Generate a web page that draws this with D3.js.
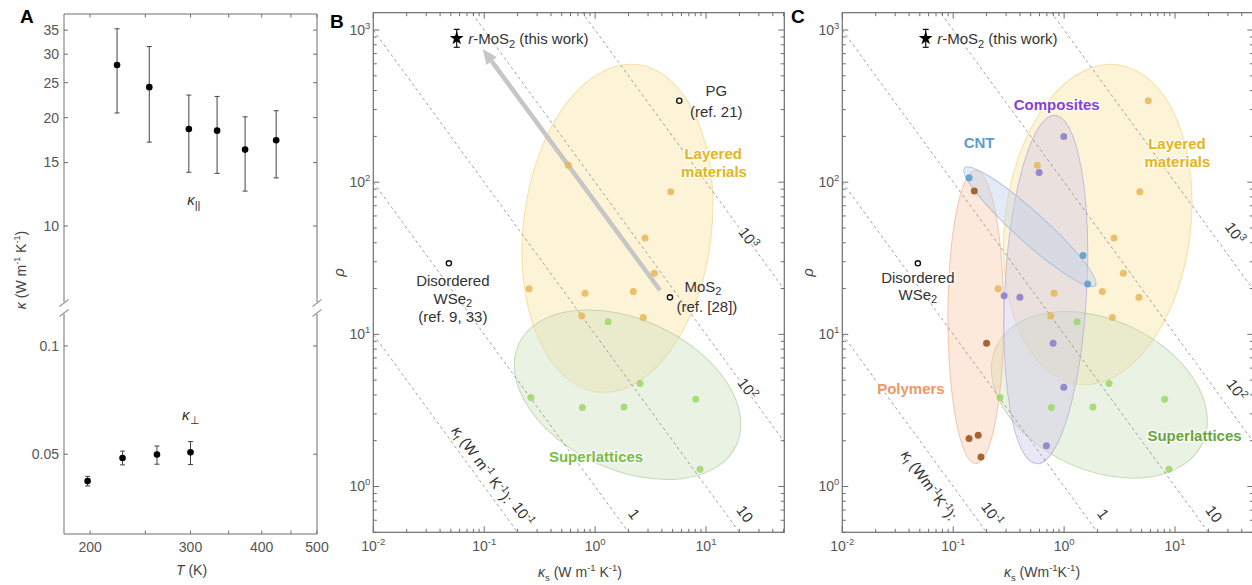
<!DOCTYPE html>
<html>
<head>
<meta charset="utf-8">
<script src="https://cdn.jsdelivr.net/npm/d3@7"></script>
<style>
  body { margin: 0; background: #fff; }
  svg { display: block; font-family: Arial, "Liberation Sans", Helvetica, sans-serif; }
</style>
</head>
<body>
<svg id="fig" width="1252" height="585"></svg>
<script>
// ---------- Panel A: conductivity versus temperature ----------
const tempPar = [223, 254, 298, 334, 374, 424];
const kappaPar = [28.0, 24.3, 18.6, 18.4, 16.3, 17.3];
const kappaParLow = [20.6, 17.1, 14.1, 14.0, 12.5, 13.6];
const kappaParHigh = [35.3, 31.5, 23.1, 22.9, 20.1, 20.9];
const tempPerp = [198, 228, 262, 300];
const kappaPerp = [0.0421, 0.0488, 0.0499, 0.0506];
const kappaPerpLow = [0.0408, 0.0467, 0.0469, 0.0468];
const kappaPerpHigh = [0.0434, 0.0510, 0.0527, 0.0542];
const tempTicks = [200, 300, 400, 500];
const tempMinorTicks = [250, 350, 450];
const kappaParTicks = [10, 15, 20, 25, 30, 35];
const kappaPerpTicks = [0.05, 0.1];

// ---------- Panels B and C: anisotropy ratio rho versus cross-plane kappa ----------
const layeredKs  = [0.573, 4.81, 2.82, 3.42, 0.254, 0.811, 2.21, 0.757, 2.72];
const layeredRho = [129, 86.5, 43.0, 25.2, 19.9, 18.6, 19.1, 13.2, 12.9];
const superKs    = [1.31, 2.54, 0.264, 0.768, 1.82, 8.07, 8.83];
const superRho   = [12.1, 4.76, 3.85, 3.30, 3.33, 3.74, 1.30];
const cntKs      = [0.139, 1.48, 1.63];
const cntRho     = [107, 33.0, 21.4];
const compKs     = [0.993, 0.596, 0.288, 0.399, 0.796, 0.993, 0.693];
const compRho    = [200, 116, 17.9, 17.5, 8.73, 4.49, 1.85];
const polyKs     = [0.155, 0.200, 0.139, 0.168, 0.178];
const polyRho    = [87.4, 8.73, 2.07, 2.17, 1.56];
const rMoS2      = [0.0565, 882];      // kappa_s, rho
const rMoS2Err   = [770, 1010];        // rho range
const pgPoint    = [5.74, 343];
const mos2Point  = [4.73, 17.5];
const wse2Point  = [0.048, 29.3];
const arrowFrom  = [3.85, 19.5];
const arrowTo    = [0.097, 750];
const kfValues   = [0.1, 1, 10, 100, 1000];
const kfLabels   = ["10|-1", "1", "10", "10|2", "10|3"];
const ksDomain   = [0.01, 50.8];
const rhoDomain  = [0.5, 1300];

// region envelopes: centre (kappa_s, rho), half-widths in decades, tilt in degrees
const envLayeredB = { ks: 1.59, rho: 49.8, dx: 0.848, dy: 1.084, angle: 7,  fill: "#fbe3a0", stroke: "#f1d488" };
const envSuperB   = { ks: 1.96, rho: 4.01, dx: 1.082, dy: 0.493, angle: 25, fill: "#cde0bd", stroke: "#b3cd9c" };
const envLayeredC = { ks: 2.01, rho: 52.7, dx: 0.838, dy: 1.058, angle: 7,  fill: "#fbe3a0", stroke: "#f1d488" };
const envSuperC   = { ks: 2.08, rho: 4.00, dx: 1.027, dy: 0.493, angle: 25, fill: "#cde0bd", stroke: "#b3cd9c" };
const envComp     = { ks: 0.684, rho: 19.7, dx: 0.369, dy: 1.147, angle: 3, fill: "#cfc7e6", stroke: "#b2a8d6" };
const envCnt      = { ks: 0.491, rho: 50.9, dx: 0.793, dy: 0.099, angle: 42, fill: "#bcd0ea", stroke: "#98b5d8" };
const envPoly     = { ks: 0.160, rho: 13.0, dx: 0.252, dy: 0.964, angle: 0, fill: "#f8caa9", stroke: "#eeb18c" };

const svg = d3.select("#fig");
const AXIS = "#6e6e6e", TICKTXT = "#555", TEXT = "#333";

function addLine(g, x1, y1, x2, y2, color = AXIS, w = 1) {
  return g.append("line").attr("x1", x1).attr("y1", y1).attr("x2", x2).attr("y2", y2)
    .attr("stroke", color).attr("stroke-width", w);
}

// ======================= Panel A =======================
const gA = svg.append("g");
const xA = d3.scaleLog().domain([180, 500]).range([64, 317]);
const yUp = d3.scaleLog().domain([6.11, 38.8]).range([303, 14]);
const yLo = d3.scaleLog().domain([0.030, 0.1235]).range([534, 313]);
const [aL, aR] = xA.range();
const aT = yUp.range()[1], aB = yLo.range()[0];
const gapT = yUp.range()[0], gapB = yLo.range()[1];

addLine(gA, aL, aT, aR, aT);
addLine(gA, aL, aB, aR, aB);
[aL, aR].forEach(x => {
  addLine(gA, x, aT, x, gapT - 1);
  addLine(gA, x, gapB + 1, x, aB);
  [gapT, gapB].forEach(y => addLine(gA, x - 4.5, y + 3.5, x + 4.5, y - 3.5, "#9a9a9a", 1.1));
});

// temperature ticks (inward on top and bottom)
tempTicks.concat(tempMinorTicks).forEach(t => {
  const x = xA(t);
  addLine(gA, x, aB, x, aB - 3.5);
  addLine(gA, x, aT, x, aT + 3.5);
});
tempTicks.forEach(t => {
  gA.append("text").attr("x", xA(t)).attr("y", 552).attr("text-anchor", "middle")
    .attr("font-size", 14).attr("fill", TICKTXT).text(t);
});
// kappa ticks on both sides of the broken axis
[[yUp, kappaParTicks], [yLo, kappaPerpTicks]].forEach(([sc, ticks]) => {
  ticks.forEach(v => {
    const y = sc(v);
    addLine(gA, aL, y, aL + 4, y);
    addLine(gA, aR, y, aR - 4, y);
    gA.append("text").attr("x", aL - 5).attr("y", y).attr("dy", "0.35em")
      .attr("text-anchor", "end").attr("font-size", 14).attr("fill", TICKTXT).text(v);
  });
});

function errorSeries(g, xs, ys, lo, hi, sc) {
  d3.range(xs.length).forEach(i => {
    const x = xA(xs[i]);
    addLine(g, x, sc(lo[i]), x, sc(hi[i]), "#444", 1);
    addLine(g, x - 2.5, sc(lo[i]), x + 2.5, sc(lo[i]), "#444", 1);
    addLine(g, x - 2.5, sc(hi[i]), x + 2.5, sc(hi[i]), "#444", 1);
  });
  g.selectAll(null).data(d3.zip(xs, ys)).join("circle")
    .attr("cx", d => xA(d[0])).attr("cy", d => sc(d[1])).attr("r", 3.3).attr("fill", "#000");
}
errorSeries(gA, tempPar, kappaPar, kappaParLow, kappaParHigh, yUp);
errorSeries(gA, tempPerp, kappaPerp, kappaPerpLow, kappaPerpHigh, yLo);

function kappaLabel(g, x, y, sub, size = 15) {
  const t = g.append("text").attr("x", x).attr("y", y).attr("font-size", size).attr("fill", TEXT);
  t.append("tspan").attr("font-style", "italic").text("κ");
  t.append("tspan").attr("font-size", size * 0.75).attr("dy", 4).text(sub);
  return t;
}
kappaLabel(gA, xA(296), yUp(11.4), "||");
kappaLabel(gA, xA(290), yLo(0.0623), "⊥");

// axis titles for A
{
  const t = gA.append("text").attr("transform", `translate(26,270) rotate(-90)`)
    .attr("text-anchor", "middle").attr("font-size", 14).attr("fill", "#444");
  t.append("tspan").attr("font-style", "italic").text("κ");
  t.append("tspan").text(" (W m");
  t.append("tspan").attr("font-size", 9).attr("dy", -6).text("-1");
  t.append("tspan").attr("dy", 6).text(" K");
  t.append("tspan").attr("font-size", 9).attr("dy", -6).text("-1");
  t.append("tspan").attr("dy", 6).text(")");
  const tx = gA.append("text").attr("x", (aL + aR) / 2 + 1).attr("y", 575)
    .attr("text-anchor", "middle").attr("font-size", 14).attr("fill", "#444");
  tx.append("tspan").attr("font-style", "italic").text("T");
  tx.append("tspan").text(" (K)");
}
svg.append("text").attr("x", 20).attr("y", 23).attr("font-size", 19).attr("font-weight", "bold").text("A");

// ======================= Panels B, C =======================
function makeScales(left) {
  return {
    x: d3.scaleLog().domain(ksDomain).range([left, left + 411]),
    y: d3.scaleLog().domain(rhoDomain).range([532.3, 12.7])
  };
}

function powerText(sel, str, supSize, rise) {
  const [base, exp] = str.split("|");
  sel.append("tspan").text(base);
  if (exp !== undefined) {
    sel.append("tspan").attr("font-size", supSize).attr("dy", -rise).text(exp);
  }
}

function drawEllipse(g, s, e) {
  const cx = s.x(e.ks), cy = s.y(e.rho);
  const rx = s.x(e.ks * Math.pow(10, e.dx)) - cx;
  const ry = cy - s.y(e.rho * Math.pow(10, e.dy));
  g.append("ellipse").attr("cx", cx).attr("cy", cy).attr("rx", rx).attr("ry", ry)
    .attr("transform", `rotate(${e.angle},${cx},${cy})`)
    .attr("fill", e.fill).attr("fill-opacity", 0.42)
    .attr("stroke", e.stroke).attr("stroke-opacity", 0.7).attr("stroke-width", 1);
}

function dots(g, s, ks, rho, color, r = 3.5, op = 0.9) {
  g.selectAll(null).data(d3.zip(ks, rho)).join("circle")
    .attr("cx", d => s.x(d[0])).attr("cy", d => s.y(d[1])).attr("r", r)
    .attr("fill", color).attr("fill-opacity", op);
}

function openMarker(g, s, p) {
  g.append("circle").attr("cx", s.x(p[0])).attr("cy", s.y(p[1])).attr("r", 2.6)
    .attr("fill", "#fff").attr("stroke", "#111").attr("stroke-width", 1.4);
}

function textAt(g, x, y, str, opts = {}) {
  const t = g.append("text").attr("x", x).attr("y", y)
    .attr("text-anchor", opts.anchor || "middle").attr("font-size", opts.size || 15)
    .attr("fill", opts.color || TEXT);
  if (opts.bold) t.attr("font-weight", "bold");
  if (opts.halo) t.attr("stroke", "#fff").attr("stroke-width", 3).attr("stroke-opacity", 0.75)
    .attr("paint-order", "stroke").attr("stroke-linejoin", "round");
  return t.text(str);
}

function subText(g, x, y, base, sub, tail = "", opts = {}) {
  const t = g.append("text").attr("x", x).attr("y", y)
    .attr("text-anchor", opts.anchor || "middle").attr("font-size", 15).attr("fill", TEXT);
  t.append("tspan").text(base);
  t.append("tspan").attr("font-size", 11).attr("dy", 3).text(sub);
  if (tail) t.append("tspan").attr("dy", -3).text(tail);
  return t;
}

function drawPanel(id, s, envs) {
  const g = svg.append("g");
  const [x0, x1] = s.x.range();
  const [yb, yt] = s.y.range();
  svg.append("clipPath").attr("id", "clip" + id).append("rect")
    .attr("x", x0).attr("y", yt).attr("width", x1 - x0).attr("height", yb - yt);
  const plot = g.append("g").attr("clip-path", `url(#clip${id})`);

  envs.forEach(e => drawEllipse(plot, s, e));

  // constant kappa_f lines: rho * kappa_s = kappa_f
  const [k0, k1] = s.x.domain();
  kfValues.forEach(k => {
    plot.append("line")
      .attr("x1", s.x(k0)).attr("y1", s.y(k / k0))
      .attr("x2", s.x(k1)).attr("y2", s.y(k / k1))
      .attr("stroke", "#8a8a8a").attr("stroke-width", 0.8).attr("stroke-dasharray", "3,3");
  });

  // frame and inward ticks
  g.append("rect").attr("x", x0).attr("y", yt).attr("width", x1 - x0).attr("height", yb - yt)
    .attr("fill", "none").attr("stroke", AXIS).attr("stroke-width", 1.2);
  const isMajor = v => Math.abs(Math.log10(v) - Math.round(Math.log10(v))) < 1e-9;
  s.x.ticks().forEach(v => {
    const x = s.x(v), len = isMajor(v) ? 6 : 3.5;
    addLine(g, x, yb, x, yb - len);
    addLine(g, x, yt, x, yt + len);
    if (isMajor(v)) {
      const t = g.append("text").attr("x", x).attr("y", 551).attr("text-anchor", "middle")
        .attr("font-size", 14).attr("fill", TICKTXT);
      powerText(t, "10|" + Math.round(Math.log10(v)), 9.5, 6);
    }
  });
  s.y.ticks().forEach(v => {
    const y = s.y(v), len = isMajor(v) ? 6 : 3.5;
    addLine(g, x0, y, x0 + len, y);
    addLine(g, x1, y, x1 - len, y);
    if (isMajor(v)) {
      const t = g.append("text").attr("x", x0 - 3).attr("y", y + 5).attr("text-anchor", "end")
        .attr("font-size", 14).attr("fill", TICKTXT);
      powerText(t, "10|" + Math.round(Math.log10(v)), 9.5, 6);
    }
  });
  return { g, plot };
}

function lineAngle(s) {
  return Math.atan2(s.y(0.1) - s.y(1), s.x(10) - s.x(1)) * 180 / Math.PI;
}

function kfLabel(g, s, i, rho, dx) {
  const x = s.x(kfValues[i] / rho) + dx, y = s.y(rho);
  const t = g.append("text").attr("transform", `translate(${x},${y}) rotate(${lineAngle(s)})`)
    .attr("text-anchor", "middle").attr("dy", "0.35em").attr("font-size", 15).attr("fill", TEXT)
    .attr("stroke", "#fff").attr("stroke-width", 3).attr("paint-order", "stroke");
  powerText(t, kfLabels[i], 10, 6);
}

function kfTitle(g, s, ks, rho, compact) {
  const t = g.append("text")
    .attr("transform", `translate(${s.x(ks)},${s.y(rho)}) rotate(${lineAngle(s)})`)
    .attr("text-anchor", "middle").attr("dy", "0.35em").attr("font-size", 15).attr("fill", TEXT);
  t.append("tspan").attr("font-style", "italic").text("κ");
  t.append("tspan").attr("font-size", 10).attr("dy", 4).text("f");
  t.append("tspan").attr("dy", -4).text(compact ? " (Wm" : " (W m");
  t.append("tspan").attr("font-size", 10).attr("dy", -6).text("-1");
  t.append("tspan").attr("dy", 6).text(compact ? "K" : " K");
  t.append("tspan").attr("font-size", 10).attr("dy", -6).text("-1");
  t.append("tspan").attr("dy", 6).text("):");
}

function axisTitles(g, s, xcenter, compact) {
  const [x0] = s.x.range();
  const [yb, yt] = s.y.range();
  g.append("text").attr("transform", `translate(${x0 - 29},${(yb + yt) / 2}) rotate(-90)`)
    .attr("text-anchor", "middle").attr("font-size", 15).attr("font-style", "italic")
    .attr("fill", "#444").text("ρ");
  const t = g.append("text").attr("x", xcenter).attr("y", 577).attr("text-anchor", "middle")
    .attr("font-size", 14).attr("fill", "#444");
  t.append("tspan").attr("font-style", "italic").text("κ");
  t.append("tspan").attr("font-size", 9.5).attr("dy", 4).text("s");
  t.append("tspan").attr("dy", -4).text(compact ? " (Wm" : " (W m");
  t.append("tspan").attr("font-size", 9.5).attr("dy", -6).text("-1");
  t.append("tspan").attr("dy", 6).text(compact ? "K" : " K");
  t.append("tspan").attr("font-size", 9.5).attr("dy", -6).text("-1");
  t.append("tspan").attr("dy", 6).text(")");
}

function starMarker(g, s) {
  const x = s.x(rMoS2[0]), y = s.y(rMoS2[1]);
  addLine(g, x, s.y(rMoS2Err[0]), x, s.y(rMoS2Err[1]), "#111", 1.2);
  addLine(g, x - 3, s.y(rMoS2Err[0]), x + 3, s.y(rMoS2Err[0]), "#111", 1.2);
  addLine(g, x - 3, s.y(rMoS2Err[1]), x + 3, s.y(rMoS2Err[1]), "#111", 1.2);
  g.append("path").attr("d", d3.symbol(d3.symbolStar, 60)())
    .attr("transform", `translate(${x},${y})`).attr("fill", "#000");
  const t = g.append("text").attr("x", x + 11.5).attr("y", y + 5.5).attr("font-size", 15).attr("fill", TEXT);
  t.append("tspan").attr("font-style", "italic").text("r");
  t.append("tspan").text("-MoS");
  t.append("tspan").attr("font-size", 11).attr("dy", 4).text("2");
  t.append("tspan").attr("dy", -4).text(" (this work)");
}

// ---------------- Panel B ----------------
const sB = makeScales(373.3);
const B = drawPanel("B", sB, [envLayeredB, envSuperB]);
{
  const p = B.plot;
  // arrow from MoS2 towards r-MoS2
  const ax0 = sB.x(arrowFrom[0]), ay0 = sB.y(arrowFrom[1]);
  const ax1 = sB.x(arrowTo[0]), ay1 = sB.y(arrowTo[1]);
  const ang = Math.atan2(ay1 - ay0, ax1 - ax0);
  const hl = 15, hw = 6.5;
  const bx = ax1 - hl * Math.cos(ang), by = ay1 - hl * Math.sin(ang);
  addLine(p, ax0, ay0, bx, by, "#c6c6c6", 4.5);
  p.append("path").attr("d", `M${ax1},${ay1}L${bx + hw * Math.sin(ang)},${by - hw * Math.cos(ang)}L${bx - hw * Math.sin(ang)},${by + hw * Math.cos(ang)}Z`)
    .attr("fill", "#c6c6c6");

  dots(p, sB, layeredKs, layeredRho, "#e7b657", 3.5, 0.85);
  dots(p, sB, superKs, superRho, "#9ed66a", 3.5, 0.85);
  openMarker(p, sB, pgPoint);
  openMarker(p, sB, mos2Point);
  openMarker(p, sB, wse2Point);
  starMarker(B.g, sB);

  const px = sB.x(pgPoint[0]), py = sB.y(pgPoint[1]);
  textAt(B.g, px + 37, py - 5, "PG");
  textAt(B.g, px + 37, py + 16, "(ref. 21)");
  const mx = sB.x(mos2Point[0]), my = sB.y(mos2Point[1]);
  subText(B.g, mx + 33, my - 5, "MoS", "2");
  textAt(B.g, mx + 37, my + 15, "(ref. [28])");
  const wx = sB.x(wse2Point[0]), wy = sB.y(wse2Point[1]);
  textAt(B.g, wx + 4, wy + 23, "Disordered");
  subText(B.g, wx + 4, wy + 41, "WSe", "2");
  textAt(B.g, wx + 4, wy + 59, "(ref. 9, 33)");

  textAt(B.g, sB.x(11.6), sB.y(142), "Layered", { bold: true, color: "#e3b521", halo: true });
  textAt(B.g, sB.x(11.8), sB.y(108), "materials", { bold: true, color: "#e3b521", halo: true });
  textAt(B.g, sB.x(1.02), sB.y(1.45), "Superlattices", { bold: true, color: "#78bd48", halo: true });

  [0, 1, 2].forEach(i => kfLabel(B.g, sB, i, 0.66, 19));
  kfLabel(B.g, sB, 3, 4.4, 2);
  kfLabel(B.g, sB, 4, 43, 2);
  kfTitle(B.g, sB, 0.096, 1.395, false);
  axisTitles(B.g, sB, 580, false);
}
svg.append("text").attr("x", 330).attr("y", 28).attr("font-size", 19).attr("font-weight", "bold").text("B");

// ---------------- Panel C ----------------
const sC = makeScales(842.3);
const Cp = drawPanel("C", sC, [envLayeredC, envSuperC, envComp, envPoly, envCnt]);
{
  const p = Cp.plot;
  dots(p, sC, layeredKs.concat([pgPoint[0], mos2Point[0]]), layeredRho.concat([pgPoint[1], mos2Point[1]]), "#e7b657", 3.5, 0.85);
  dots(p, sC, superKs, superRho, "#9ed66a", 3.5, 0.85);
  dots(p, sC, cntKs, cntRho, "#5b9fd2", 3.5, 0.9);
  dots(p, sC, compKs, compRho, "#8b82c9", 3.5, 0.9);
  dots(p, sC, polyKs, polyRho, "#a35d27", 3.5, 0.95);
  openMarker(p, sC, wse2Point);
  starMarker(Cp.g, sC);

  const wx = sC.x(wse2Point[0]), wy = sC.y(wse2Point[1]);
  textAt(Cp.g, wx, wy + 20, "Disordered", { halo: true });
  subText(Cp.g, wx, wy + 37, "WSe", "2");

  textAt(Cp.g, sC.x(0.857), sC.y(298), "Composites", { bold: true, color: "#8a3fd4", halo: true });
  textAt(Cp.g, sC.x(0.171), sC.y(167), "CNT", { bold: true, color: "#5b9bd3", halo: true });
  textAt(Cp.g, sC.x(10.4), sC.y(165), "Layered", { bold: true, color: "#e3b521", halo: true });
  textAt(Cp.g, sC.x(10.5), sC.y(126), "materials", { bold: true, color: "#e3b521", halo: true });
  textAt(Cp.g, sC.x(0.0416), sC.y(4.05), "Polymers", { bold: true, color: "#ee9868", halo: true });
  textAt(Cp.g, sC.x(15.0), sC.y(1.99), "Superlattices", { bold: true, color: "#66a83c", halo: true });

  [0, 1, 2].forEach(i => kfLabel(Cp.g, sC, i, 0.66, 19));
  kfLabel(Cp.g, sC, 3, 4.31, 21);
  kfLabel(Cp.g, sC, 4, 46.4, 23);
  kfTitle(Cp.g, sC, 0.0607, 1.02, true);
  axisTitles(Cp.g, sC, 1042, true);
}
svg.append("text").attr("x", 791).attr("y", 23).attr("font-size", 19).attr("font-weight", "bold").text("C");
</script>
</body>
</html>
